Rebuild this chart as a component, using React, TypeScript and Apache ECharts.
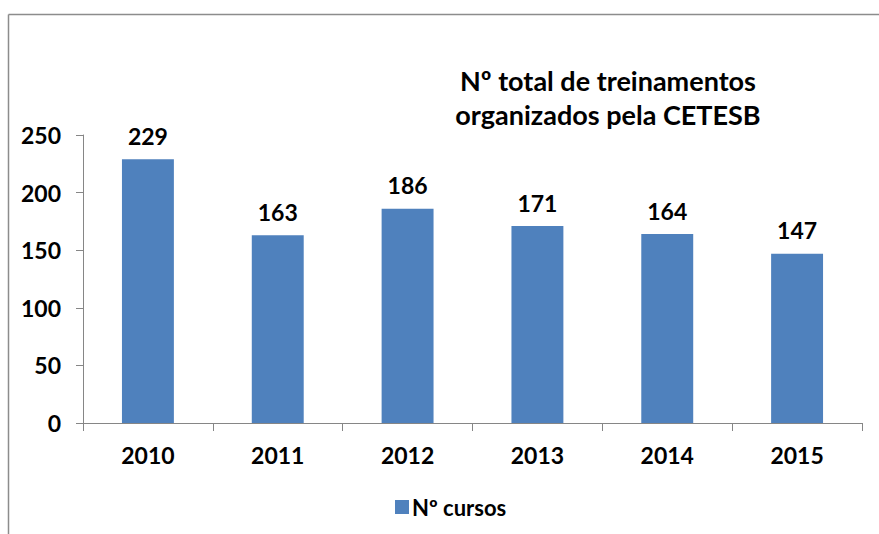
import React, { useEffect, useRef } from "react";
import * as echarts from "echarts";

const categories = ["2010", "2011", "2012", "2013", "2014", "2015"];
const cursos = [229, 163, 186, 171, 164, 147];
const seriesName = "Nº cursos";
const titleLines = ["Nº total de treinamentos", "organizados pela CETESB"];

const FONT = "Lato, 'Noto Sans', sans-serif";

export default function App() {
  const ref = useRef<HTMLDivElement>(null);
  useEffect(() => {
    if (!ref.current) return;
    const chart = echarts.init(ref.current, null, { renderer: "svg" });
    chart.setOption({
      animation: false,
      backgroundColor: "#ffffff",
      textStyle: { fontFamily: FONT },
      title: {
        text: titleLines.join("\n"),
        left: 603,
        top: 58,
        textAlign: "center",
        textStyle: {
          fontFamily: FONT,
          fontSize: 27,
          fontWeight: "bold",
          color: "#000",
          lineHeight: 34,
        },
      },
      legend: {
        data: [seriesName],
        left: 390,
        top: 491,
        itemWidth: 14,
        itemHeight: 14,
        itemGap: 4,
        icon: "rect",
        textStyle: { fontFamily: FONT, fontSize: 22, color: "#000", fontWeight: "bold", padding: [0, 0, 0, -2] },
      },
      grid: { left: 83, right: 17, top: 135, bottom: 111 },
      xAxis: {
        type: "category",
        data: categories,
        axisLine: { lineStyle: { color: "#868686", width: 1 } },
        axisTick: { show: true, length: 8, alignWithLabel: false, lineStyle: { color: "#868686" } },
        axisLabel: { fontFamily: FONT, fontSize: 23, fontWeight: "bold", color: "#000", margin: 20 },
      },
      yAxis: {
        type: "value",
        min: 0,
        max: 250,
        interval: 50,
        axisLine: { show: true, lineStyle: { color: "#868686", width: 1 } },
        axisTick: { show: true, length: 7, lineStyle: { color: "#868686" } },
        splitLine: { show: false },
        axisLabel: { fontFamily: FONT, fontSize: 23, fontWeight: "bold", color: "#000", margin: 22 },
      },
      series: [
        {
          name: seriesName,
          type: "bar",
          data: cursos,
          barWidth: "40%",
          itemStyle: { color: "#4F81BD" },
          label: {
            show: true,
            position: "top",
            distance: 12,
            fontFamily: FONT,
            fontSize: 23,
            fontWeight: "bold",
            color: "#000",
          },
        },
      ],
      graphic: [
        {
          type: "line",
          shape: { x1: 8.5, y1: 14.5, x2: 879, y2: 14.5 },
          style: { stroke: "#8c8c8c", lineWidth: 1.5 },
          silent: true,
        },
        {
          type: "line",
          shape: { x1: 8.5, y1: 14.5, x2: 8.5, y2: 534 },
          style: { stroke: "#8c8c8c", lineWidth: 1.5 },
          silent: true,
        },
      ],
    });
    return () => chart.dispose();
  }, []);
  return (
    <div
      ref={ref}
      style={{ position: "fixed", left: 0, top: 0, width: 879, height: 534 }}
    />
  );
}
